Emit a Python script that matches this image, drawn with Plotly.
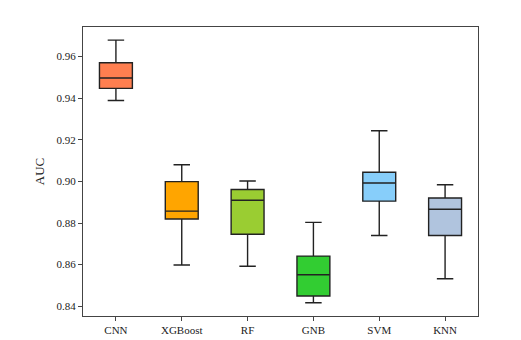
import plotly.graph_objects as go

models = ["CNN", "XGBoost", "RF", "GNB", "SVM", "KNN"]
lower = [0.9389, 0.8598, 0.8592, 0.8417, 0.8740, 0.8532]
q1 = [0.9447, 0.8819, 0.8746, 0.8449, 0.8905, 0.8740]
median = [0.9497, 0.8857, 0.8909, 0.8551, 0.8992, 0.8866]
q3 = [0.9570, 0.8999, 0.8961, 0.8641, 0.9044, 0.8920]
upper = [0.9679, 0.9080, 0.9002, 0.8803, 0.9243, 0.8984]
colors = ["#FF7F50", "#FFA500", "#9ACD32", "#32CD32", "#87CEFA", "#B0C4DE"]

fig = go.Figure()
for i, m in enumerate(models):
    fig.add_trace(go.Box(
        x=[m], q1=[q1[i]], median=[median[i]], q3=[q3[i]],
        lowerfence=[lower[i]], upperfence=[upper[i]],
        fillcolor=colors[i], line=dict(color="#222222", width=1.4),
        width=0.5, whiskerwidth=0.5, showlegend=False, hoverinfo="skip",
    ))

fig.update_layout(
    width=521, height=340,
    margin=dict(l=75, r=51, t=19, b=27),
    paper_bgcolor="white", plot_bgcolor="white",
    font=dict(family="Liberation Serif", size=11, color="#222222"),
    boxmode="overlay",
)
fig.update_xaxes(
    categoryorder="array", categoryarray=models, range=[-0.5, 5.5],
    showline=True, linecolor="#444444", linewidth=1, mirror=True,
    ticks="outside", ticklen=4, tickcolor="#444444", showgrid=False,
)
fig.update_yaxes(
    range=[0.8353, 0.9742], tickvals=[0.84, 0.86, 0.88, 0.90, 0.92, 0.94, 0.96],
    tickformat=".2f", title=dict(text="AUC", standoff=8),
    showline=True, linecolor="#444444", linewidth=1, mirror=True,
    ticks="outside", ticklen=4, tickcolor="#444444", showgrid=False, zeroline=False,
)

fig.write_html("out.html")
